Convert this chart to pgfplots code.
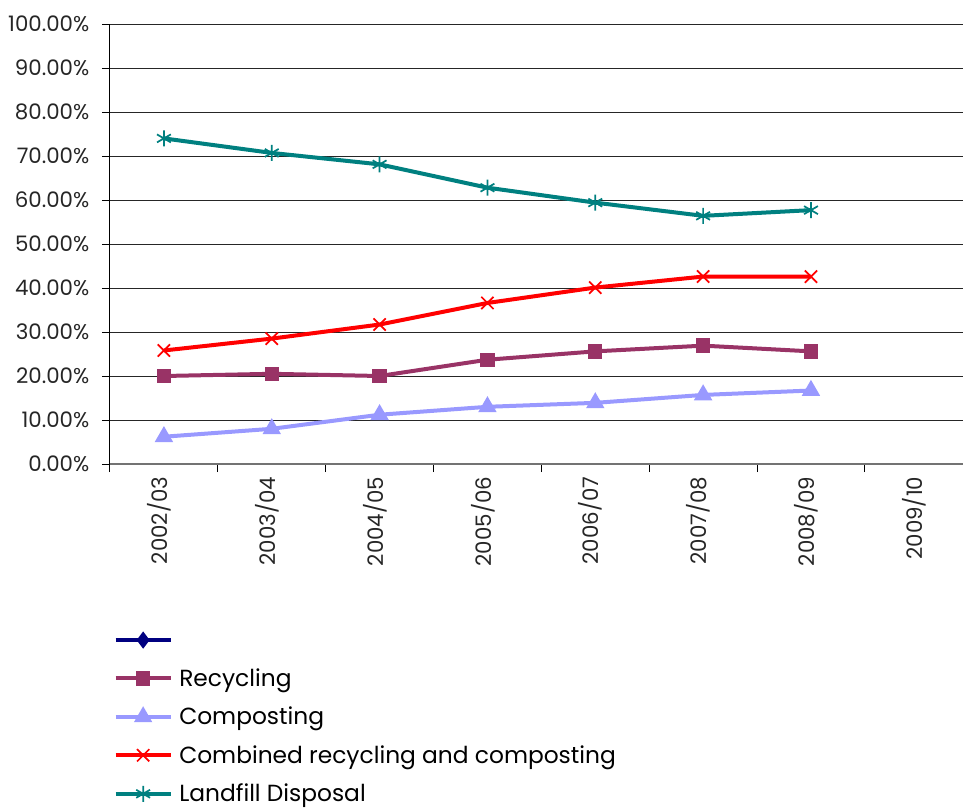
\documentclass[border=0pt]{standalone}
\usepackage{fontspec}
\setmainfont{Poppins}
\usepackage{pgfplots}
\pgfplotsset{compat=1.18}

\definecolor{seriesnavy}{HTML}{000080}
\definecolor{recycling}{HTML}{993366}
\definecolor{composting}{HTML}{9999FF}
\definecolor{combined}{HTML}{FF0000}
\definecolor{landfill}{HTML}{008080}

% Shares of municipal waste by route (percent)
\pgfplotstableread{
x  rec   comp  comb  land
0  20.0  6.2   25.8  74.0
1  20.5  8.0   28.5  70.7
2  20.0  11.2  31.7  68.1
3  23.7  13.0  36.6  62.8
4  25.6  13.9  40.1  59.4
5  26.9  15.7  42.6  56.4
6  25.6  16.7  42.6  57.7
}\wastedata

\begin{document}
\begin{tikzpicture}
\useasboundingbox (-82.5pt,-257.25pt) rectangle (639.75pt,348pt);
\begin{axis}[
  at={(0pt,0pt)}, anchor=south west,
  scale only axis,
  width=639.75pt, height=330pt,
  xmin=-0.5, xmax=7.41,
  ymin=0, ymax=100,
  axis lines*=left,
  axis line style={line width=0.75pt},
  x axis line style={draw=black!55, line width=1.2pt},
  ytick={0,10,...,100},
  yticklabel={\pgfmathprintnumber[fixed,fixed zerofill,precision=2]{\tick}\%},
  /pgf/number format/assume math mode=true,
  xtick={0,...,7},
  xticklabels={2002/03,2003/04,2004/05,2005/06,2006/07,2007/08,2008/09,2009/10},
  minor xtick={-0.5,0.5,...,6.5},
  major x tick style={draw=none},
  tick align=outside,
  major tick length=6pt,
  minor tick length=6pt,
  tick style={black, line width=0.75pt},
  ymajorgrids,
  grid style={black!85, line width=0.75pt},
  ticklabel style={font=\fontsize{16}{19}\selectfont, text=black!85},
  y tick label style={xshift=-6pt},
  x tick label style={rotate=90, anchor=east, yshift=3.5pt},
  legend style={
    at={(0.004,-0.371)}, anchor=north west,
    draw=none, fill=none,
    font=\fontsize{17.5}{21}\selectfont,
    row sep=10pt,
    inner sep=0pt,
    /tikz/every odd column/.append style={column sep=3pt},
  },
  legend cell align=left,
  legend image code/.code={%
    \draw[mark repeat=2,mark phase=2] plot coordinates {(0pt,0pt) (20.6pt,0pt) (41.2pt,0pt)};
  },
]
\addlegendimage{seriesnavy, line width=3pt, mark=diamond*, mark size=4pt, mark options={solid}}
\addlegendentry{\vphantom{Recycling}}
\addplot[recycling, line width=3pt, mark=square*, mark size=3.9pt, mark options={solid}]
  table[x=x, y=rec] {\wastedata};
\addlegendentry{Recycling}
\addplot[composting, line width=3pt, mark=triangle*, mark size=5pt, mark options={solid}]
  table[x=x, y=comp] {\wastedata};
\addlegendentry{Composting}
\addplot[combined, line width=3pt, mark=x, mark size=6.5pt, mark options={solid, line width=1.3pt}]
  table[x=x, y=comb] {\wastedata};
\addlegendentry{Combined recycling and composting}
\addplot[landfill, line width=3pt, mark=asterisk, mark size=6pt, mark options={solid, line width=1.3pt}]
  table[x=x, y=land] {\wastedata};
\addlegendentry{Landfill Disposal}
\end{axis}
\end{tikzpicture}
\end{document}
